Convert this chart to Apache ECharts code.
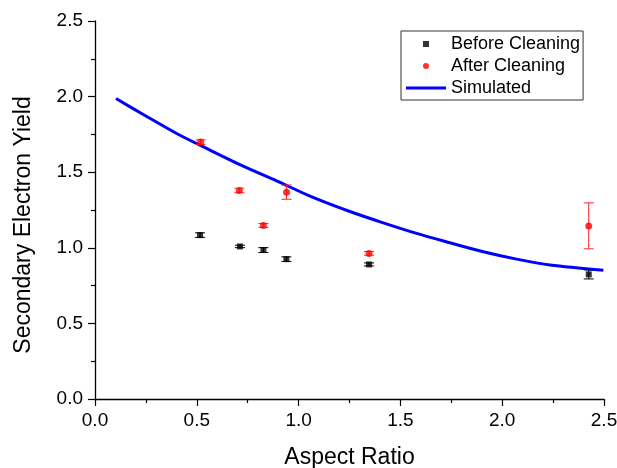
<!DOCTYPE html>
<html>
<head>
<meta charset="utf-8">
<script src="https://cdn.jsdelivr.net/npm/echarts@6/dist/echarts.min.js"></script>
<style>html,body{margin:0;padding:0;background:#fff}#c{width:617px;height:468px}</style>
</head>
<body>
<div id="c"></div>
<script>
// Data
const beforeX   = [0.516, 0.712, 0.827, 0.940, 1.346, 2.425];
const beforeY   = [1.084, 1.009, 0.985, 0.925, 0.890, 0.824];
const beforeErr = [0.015, 0.008, 0.016, 0.015, 0.010, 0.030];

const afterX    = [0.519, 0.709, 0.827, 0.941, 1.346, 2.425];
const afterY    = [1.699, 1.379, 1.148, 1.368, 0.963, 1.145];
const afterErr  = [0.015, 0.015, 0.013, 0.047, 0.012, 0.152];

const simX = [0.103, 0.237, 0.401, 0.565, 0.728, 0.892, 1.056, 1.252, 1.416, 1.580, 1.744, 1.907, 2.071, 2.235, 2.497];
const simY = [1.987, 1.882, 1.756, 1.646, 1.540, 1.443, 1.342, 1.240, 1.165, 1.095, 1.033, 0.974, 0.925, 0.886, 0.851];

const xTicks = [0.0, 0.5, 1.0, 1.5, 2.0, 2.5];
const yTicks = [0.0, 0.5, 1.0, 1.5, 2.0, 2.5];

const FONT = 'Liberation Sans, Arial, sans-serif';

function pairs(xs, ys){ return xs.map((x,i)=>[x, ys[i]]); }
function errData(xs, ys, es){ return xs.map((x,i)=>[x, ys[i]-es[i], ys[i]+es[i]]); }
function errSeries(name, data, color){
  return {
    type: 'custom', name: name + ' err', silent: true, z: 3,
    data: data,
    encode: { x: 0, y: [1, 2] },
    renderItem: function(params, api){
      const x = api.value(0), lo = api.value(1), hi = api.value(2);
      const pl = api.coord([x, lo]), ph = api.coord([x, hi]);
      const w = 5;
      const st = { stroke: color, lineWidth: 1 };
      return { type: 'group', children: [
        { type:'line', shape:{x1:pl[0], y1:pl[1], x2:ph[0], y2:ph[1]}, style: st },
        { type:'line', shape:{x1:pl[0]-w, y1:pl[1], x2:pl[0]+w, y2:pl[1]}, style: st },
        { type:'line', shape:{x1:ph[0]-w, y1:ph[1], x2:ph[0]+w, y2:ph[1]}, style: st }
      ]};
    }
  };
}

const chart = echarts.init(document.getElementById('c'), null, {renderer:'canvas'});
const axisCommon = {
  min: 0, max: 2.5, interval: 0.5,
  axisLine: { show: true, onZero: false, lineStyle: { color: '#000', width: 1.3 } },
  axisTick: { show: true, inside: false, length: 7, lineStyle: { color: '#000', width: 1.2 } },
  minorTick: { show: true, splitNumber: 2, length: 4, lineStyle: { color: '#000', width: 1.2 } },
  splitLine: { show: false },
  axisLabel: { color: '#000', fontSize: 19, fontFamily: FONT, formatter: v => v.toFixed(1) },
  nameLocation: 'middle',
  nameTextStyle: { color: '#000', fontSize: 23, fontFamily: FONT }
};
chart.setOption({
  animation: false,
  backgroundColor: '#fff',
  grid: { left: 95, right: 13, top: 21, bottom: 69, containLabel: false, outerBoundsMode: 'none' },
  xAxis: Object.assign({}, axisCommon, {
    type: 'value', name: 'Aspect Ratio', nameGap: 47,
    axisLabel: Object.assign({}, axisCommon.axisLabel, { margin: 12 })
  }),
  yAxis: Object.assign({}, axisCommon, {
    type: 'value', name: 'Secondary Electron Yield', nameGap: 60,
    nameTextStyle: Object.assign({}, axisCommon.nameTextStyle, { padding: [0, 30, 0, 0] }),
    axisLabel: Object.assign({}, axisCommon.axisLabel, { margin: 12 })
  }),
  legend: {
    left: 401, top: 31, orient: 'vertical',
    padding: [4, 3, 3, 5],
    borderColor: '#333', borderWidth: 1,
    itemWidth: 40, itemHeight: 6, itemGap: 4, itemTextGap: 6,
    symbolKeepAspect: true,
    textStyle: { color: '#000', fontSize: 18, fontFamily: FONT },
    data: [
      { name: 'Before Cleaning', icon: 'path://M0,0L10,0L10,10L0,10Z' },
      { name: 'After Cleaning', icon: 'circle' },
      { name: 'Simulated', icon: 'path://M0,0L40,0L40,3L0,3Z' }
    ]
  },
  series: [
    errSeries('Before Cleaning', errData(beforeX, beforeY, beforeErr), '#000'),
    errSeries('After Cleaning', errData(afterX, afterY, afterErr), '#ff2020'),
    {
      type: 'scatter', name: 'Before Cleaning', symbol: 'rect', symbolSize: 6, z: 4,
      itemStyle: { color: '#000' }, data: pairs(beforeX, beforeY)
    },
    {
      type: 'scatter', name: 'After Cleaning', symbol: 'circle', symbolSize: 7, z: 4,
      itemStyle: { color: '#ff0000' }, data: pairs(afterX, afterY)
    },
    {
      type: 'line', name: 'Simulated', smooth: 0.3, showSymbol: false, symbol: 'none', z: 2,
      lineStyle: { color: '#0000ff', width: 3 }, itemStyle: { color: '#0000ff' },
      data: pairs(simX, simY)
    }
  ]
});
</script>
</body>
</html>
